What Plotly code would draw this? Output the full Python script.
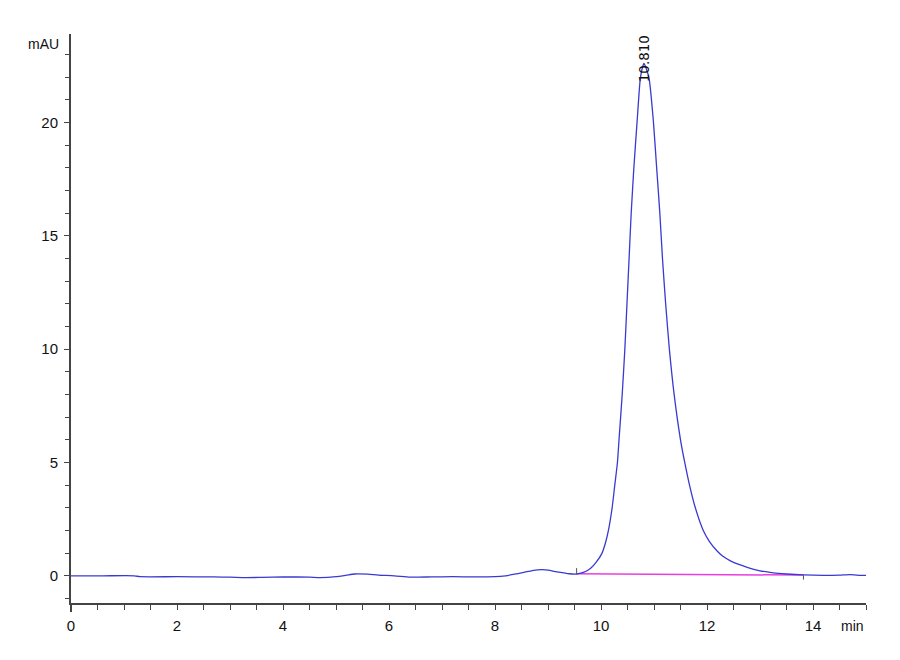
import plotly.graph_objects as go

# chromatogram trace (time in min, signal in mAU)
time_min = [
    0.0, 0.6, 1.2, 1.3, 2.0, 2.7, 3.0, 3.3, 3.6, 4.0, 4.5, 4.7, 5.0, 5.2,
    5.35, 5.6, 5.8, 6.1, 6.4, 6.8, 7.2, 7.6, 8.0, 8.2, 8.4, 8.6, 8.8, 8.9,
    9.0, 9.2, 9.4, 9.54, 9.62, 9.72, 9.81, 9.91, 10.02, 10.09, 10.14,
    10.21, 10.26, 10.31, 10.34, 10.40, 10.45, 10.49, 10.53, 10.57, 10.62,
    10.68, 10.74, 10.78, 10.81, 10.85, 10.91, 10.99, 11.05, 11.11, 11.16,
    11.22, 11.29, 11.38, 11.50, 11.58, 11.67, 11.78, 11.93, 12.05, 12.2,
    12.3, 12.45, 12.6, 12.72, 12.85, 13.0, 13.25, 13.5, 13.82, 14.2, 14.5,
    14.7, 14.9, 15.0,
]
signal_mau = [
    0.0, 0.0, 0.0, -0.04, -0.04, -0.05, -0.06, -0.08, -0.07, -0.05, -0.06,
    -0.08, -0.04, 0.03, 0.08, 0.07, 0.03, 0.0, -0.06, -0.05, -0.04, -0.05,
    -0.04, 0.0, 0.08, 0.18, 0.26, 0.27, 0.25, 0.16, 0.09, 0.08, 0.12, 0.2,
    0.34, 0.6, 1.0, 1.5, 2.0, 3.0, 4.0, 5.0, 6.0, 8.0, 10.0, 12.0, 14.0,
    16.0, 18.0, 20.0, 21.9, 22.4, 22.6, 22.4, 21.9, 20.0, 18.0, 16.0, 14.0,
    12.0, 10.0, 8.0, 6.0, 5.0, 4.0, 3.0, 2.0, 1.5, 1.07, 0.86, 0.65, 0.5,
    0.4, 0.31, 0.22, 0.13, 0.08, 0.04, 0.02, 0.03, 0.05, 0.02, 0.02,
]

# integration baseline under the main peak
baseline_t = [9.54, 13.82]
baseline_y = [0.09, 0.03]

peak_rt = 10.81
peak_label = "10.810"
peak_label_y = 21.7

x_ticks = [0, 2, 4, 6, 8, 10, 12, 14]
y_ticks = [0, 5, 10, 15, 20]

font_fam = "Liberation Sans, Arial"
axis_col = "#444444"

fig = go.Figure()

fig.add_trace(go.Scatter(
    x=baseline_t, y=baseline_y, mode="lines",
    line=dict(color="#e83ee0", width=1.5), hoverinfo="skip",
))
fig.add_trace(go.Scatter(
    x=time_min, y=signal_mau, mode="lines",
    line=dict(color="#3a3ad0", width=1.3, shape="spline", smoothing=0.6),
))

# small start/end marks of the integration baseline
fig.add_shape(type="line", x0=baseline_t[0], x1=baseline_t[0],
              y0=baseline_y[0], y1=baseline_y[0] + 0.25,
              line=dict(color="#555555", width=1))
fig.add_shape(type="line", x0=baseline_t[1], x1=baseline_t[1],
              y0=baseline_y[1], y1=baseline_y[1] - 0.2,
              line=dict(color="#555555", width=1))

# y axis line runs a little past the x axis
fig.add_shape(type="line", xref="paper", yref="paper", x0=0, x1=0,
              y0=0, y1=-0.016, line=dict(color=axis_col, width=2))

fig.add_annotation(
    x=peak_rt, y=peak_label_y, text=peak_label, textangle=-90,
    showarrow=False, xanchor="center", yanchor="bottom",
    font=dict(family="DejaVu Sans", size=13.5, color="#111111"),
)
fig.add_annotation(
    xref="paper", yref="paper", x=-0.012, y=1.0, text="mAU",
    showarrow=False, xanchor="right", yanchor="top",
    font=dict(family=font_fam, size=14, color="#111111"),
)
fig.add_annotation(
    xref="paper", yref="paper", x=1.0, y=-0.022, text="min",
    showarrow=False, xanchor="right", yanchor="top",
    font=dict(family=font_fam, size=14, color="#111111"),
)

# page body adds an 8px offset, so margins are shifted to compensate
fig.update_layout(
    width=900, height=660,
    margin=dict(l=63, r=42, t=26, b=65),
    paper_bgcolor="white", plot_bgcolor="white",
    showlegend=False,
    font=dict(family=font_fam, size=15, color="#111111"),
)
fig.update_xaxes(
    range=[0, 15], tickvals=x_ticks, ticktext=[str(v) for v in x_ticks],
    showgrid=False, zeroline=False, showline=True,
    linecolor=axis_col, linewidth=1.5,
    ticks="outside", ticklen=5, tickcolor=axis_col, tickwidth=1.2,
    ticklabelstandoff=3,
    minor=dict(dtick=0.5, tick0=0, ticks="outside", ticklen=5,
               tickcolor=axis_col, tickwidth=1.2, showgrid=False),
)
fig.update_yaxes(
    range=[-1.2, 23.9], tickvals=y_ticks, ticktext=[str(v) for v in y_ticks],
    showgrid=False, zeroline=False, showline=True,
    linecolor=axis_col, linewidth=2,
    ticks="outside", ticklen=5, tickcolor=axis_col, tickwidth=1.2,
    ticklabelstandoff=3,
    minor=dict(dtick=1, tick0=0, ticks="outside", ticklen=4,
               tickcolor=axis_col, tickwidth=1.2, showgrid=False),
)

fig.write_html("out.html")
